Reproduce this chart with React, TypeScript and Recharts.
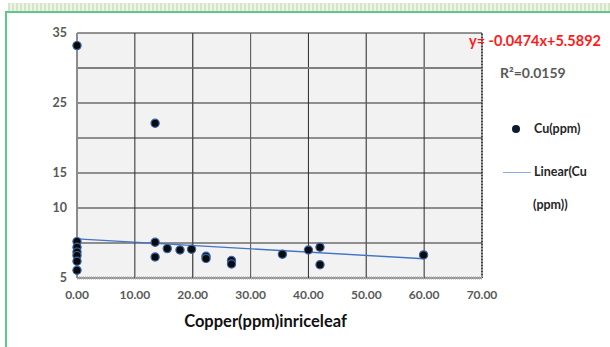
import { CartesianGrid, ReferenceLine, Scatter, ScatterChart, XAxis, YAxis } from "recharts";

// Cu(ppm) readings, x = copper in rice leaf
const CU_X = [0, 0, 0, 0, 0, 0, 0, 13.5, 13.5, 13.5, 15.6, 17.8, 19.8, 22.3, 22.3, 26.7, 26.7, 35.5, 40.0, 42.0, 42.0, 59.9];
const CU_Y = [33.2, 5.2, 4.4, 3.7, 3.2, 2.4, 1.1, 22.1, 5.1, 3.0, 4.2, 4.0, 4.1, 3.1, 2.8, 2.5, 2.0, 3.4, 4.0, 4.4, 1.9, 3.3];

// linear trend end points
const TREND_X = [0, 60];
const TREND_Y = [5.59, 2.75];

const X_TICKS = [0, 10, 20, 30, 40, 50, 60, 70];
const Y_TICKS = [0, 5, 10, 15, 20, 25, 30, 35];
const Y_TICK_LABELS = ["5", "", "10", "15", "", "25", "", "35"];

const EQUATION = "y= -0.0474x+5.5892";
const R_SQUARED = "R²=0.0159";

const FONT = "Lato, 'Open Sans', sans-serif";

const cuData = CU_X.map((x, i) => ({ x, y: CU_Y[i] }));
const trendData = TREND_X.map((x, i) => ({ x, y: TREND_Y[i] }));

function Dot(props: any) {
  const { cx, cy } = props;
  return <circle cx={cx} cy={cy} r={4.1} fill="#0b0b0b" stroke="#3a64a8" strokeWidth={1.2} />;
}

export default function App() {
  return (
    <div
      style={{
        position: "absolute",
        left: 0,
        top: 0,
        width: 610,
        height: 347,
        background: "#fff",
        fontFamily: FONT,
        overflow: "hidden",
      }}
    >
      {/* frame */}
      <div
        style={{
          position: "absolute",
          left: 8,
          top: 3,
          width: 602,
          height: 8,
          background: "repeating-linear-gradient(90deg, #d6e4c8 0 2px, #eef3e6 2px 4px)",
        }}
      />
      <div
        style={{
          position: "absolute",
          left: 5,
          top: 11,
          width: 620,
          height: 360,
          borderLeft: "2px solid #5cc98a",
          borderTop: "2px solid #5cc98a",
        }}
      />

      <div style={{ position: "absolute", left: 0, top: 0 }}>
        <ScatterChart width={610} height={347} margin={{ top: 33, right: 128, bottom: 19, left: 37 }}>
          <CartesianGrid stroke="#2a2a2a" fill="#f2f2f2" />
          <XAxis
            type="number"
            dataKey="x"
            domain={[0, 70]}
            ticks={X_TICKS}
            tickFormatter={(v: number) => v.toFixed(2)}
            tickSize={0}
            tickMargin={12}
            height={50}
            axisLine={{ stroke: "#a6a6a6", strokeWidth: 3, strokeDasharray: "1 1" }}
            tick={{ fill: "#595959", fontSize: 12, fontWeight: 700, fontFamily: FONT }}
            label={{
              value: "Copper(ppm)inriceleaf",
              position: "insideBottom",
              offset: 1,
              dx: -14,
              fill: "#111",
              fontSize: 16.5,
              fontWeight: 700,
              fontFamily: FONT,
            }}
          />
          <YAxis
            type="number"
            dataKey="y"
            domain={[0, 35]}
            ticks={Y_TICKS}
            tickFormatter={(v: number) => Y_TICK_LABELS[Y_TICKS.indexOf(v)] ?? ""}
            tickSize={0}
            tickMargin={10}
            width={40}
            axisLine={{ stroke: "#8c8c8c", strokeWidth: 2 }}
            tick={{ fill: "#595959", fontSize: 12.5, fontWeight: 700, fontFamily: FONT }}
          />
          <ReferenceLine y={30} stroke="#7f7f7f" strokeWidth={2} />
          <ReferenceLine x={20} stroke="#555" />
          <ReferenceLine x={30} stroke="#666" />
          <ReferenceLine x={50} stroke="#666" />
          <ReferenceLine x={70} stroke="#444" strokeWidth={2} strokeDasharray="1 2" />
          <Scatter
            data={trendData}
            line={{ stroke: "#4472c4", strokeWidth: 1.4 }}
            shape={() => <g />}
            isAnimationActive={false}
          />
          <Scatter data={cuData} shape={Dot} isAnimationActive={false} />
        </ScatterChart>
      </div>

      {/* trendline label */}
      <div
        style={{
          position: "absolute",
          left: 469,
          top: 32,
          color: "#ff1a1a",
          fontSize: 14.5,
          fontWeight: 700,
          whiteSpace: "nowrap",
        }}
      >
        {EQUATION}
      </div>
      <div
        style={{
          position: "absolute",
          left: 500,
          top: 64,
          color: "#595959",
          fontSize: 14,
          fontWeight: 700,
          whiteSpace: "nowrap",
        }}
      >
        {R_SQUARED}
      </div>

      {/* legend */}
      <div style={{ position: "absolute", left: 500, top: 120, fontSize: 12.5, fontWeight: 700, color: "#262626" }}>
        <div style={{ position: "absolute", left: 12, top: 5, width: 8, height: 8, borderRadius: 4, background: "#0b1a33" }} />
        <div style={{ position: "absolute", left: 34, top: 1, whiteSpace: "nowrap" }}>Cu(ppm)</div>
        <div style={{ position: "absolute", left: 3, top: 52, width: 28, height: 1, background: "#8faadc" }} />
        <div style={{ position: "absolute", left: 34, top: 44, whiteSpace: "nowrap" }}>Linear(Cu</div>
        <div style={{ position: "absolute", left: 33, top: 77, whiteSpace: "nowrap" }}>(ppm))</div>
      </div>
    </div>
  );
}
